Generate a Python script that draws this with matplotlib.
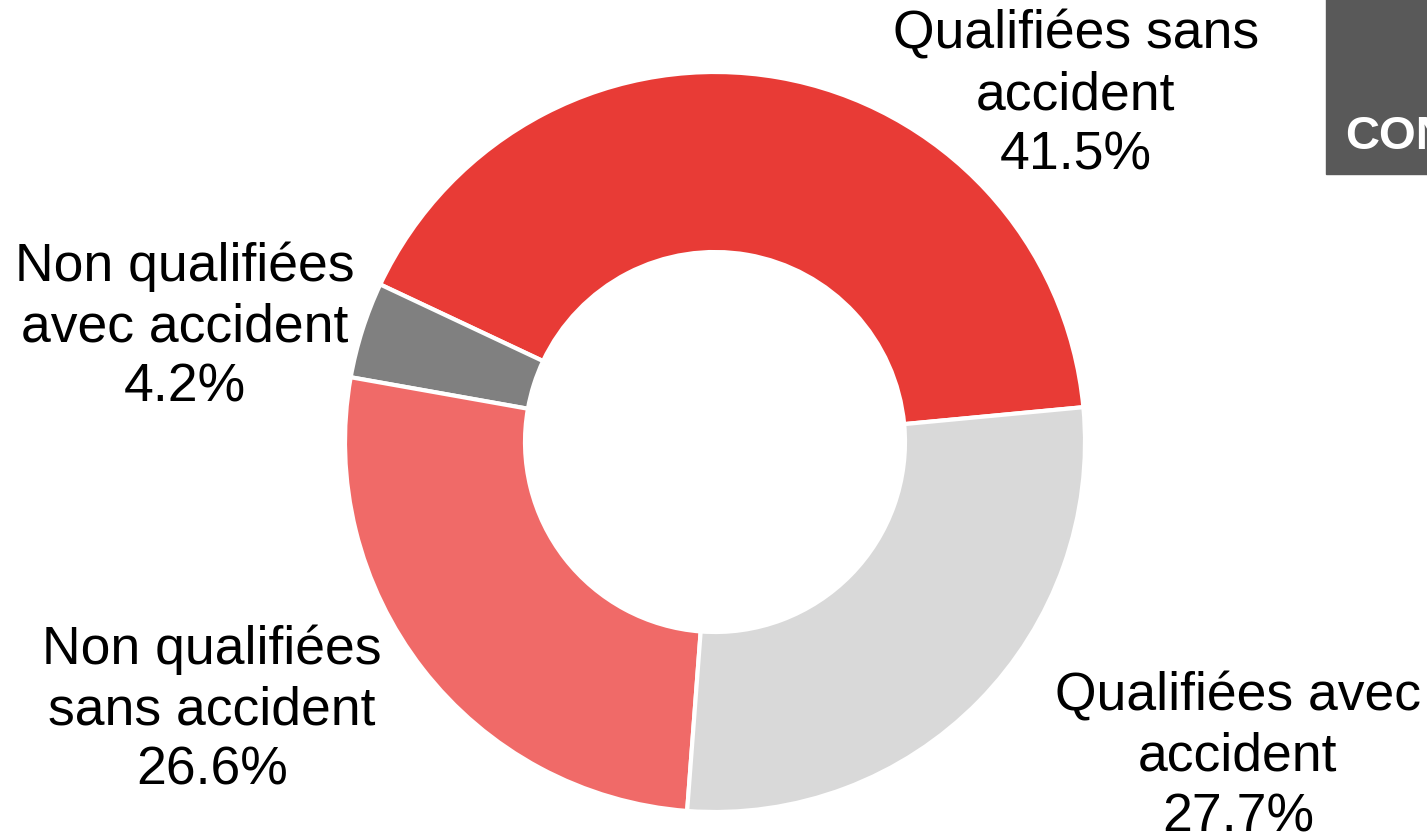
import matplotlib.pyplot as plt
from matplotlib.patches import Rectangle

plt.rcParams['font.family'] = ['Liberation Sans', 'DejaVu Sans']

labels = ['Qualifiées sans\naccident', 'Non qualifiées\navec accident',
          'Non qualifiées\nsans accident', 'Qualifiées avec\naccident']
shares = [41.5, 4.2, 26.6, 27.7]
colors = ['#E83B36', '#808080', '#F06A68', '#D9D9D9']

W, H = 1427, 837
fig = plt.figure(figsize=(W / 100, H / 100), dpi=100)
ax = fig.add_axes([0, 0, 1, 1])

# donut
ax.pie(shares, colors=colors, startangle=5.4, counterclock=True,
       center=(715, H - 443), radius=370, frame=True,
       wedgeprops=dict(width=180, edgecolor='white', linewidth=3))
ax.set_xlim(0, W)
ax.set_ylim(0, H)
ax.set_aspect('equal')
ax.axis('off')

# labels (pixel positions of the text blocks)
label_pos = [(1076, 95), (185, 327), (212, 710), (1238, 757)]
for lab, val, (x, y) in zip(labels, shares, label_pos):
    ax.text(x, H - y, f'{lab}\n{val:.1f}%', ha='center', va='center',
            fontsize=38.5, linespacing=1.27, color='black')

# truncated header box at top right
ax.add_patch(Rectangle((1326, H - 175), 200, 175, color='#595959', clip_on=False))
ax.text(1345, H - 149, 'CON', color='white', fontsize=34, fontweight='bold',
        ha='left', va='baseline')

fig.savefig('out.png', dpi=100)
